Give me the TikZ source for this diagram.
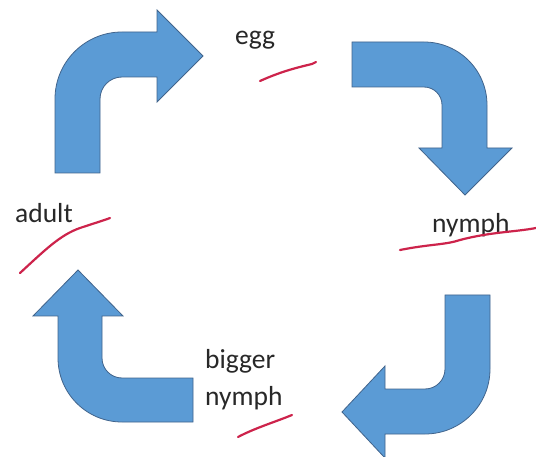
\documentclass[tikz,border=0pt]{standalone}
\usepackage{fontspec}
\setmainfont{Carlito}
\definecolor{arrowfill}{RGB}{91,155,213}
\definecolor{arrowline}{RGB}{65,100,140}
\definecolor{pen}{RGB}{205,35,75}
\definecolor{txt}{RGB}{40,40,40}
\begin{document}
\begin{tikzpicture}[x=1pt,y=-1pt,
  bent/.style={fill=arrowfill,draw=arrowline,line width=0.8pt,line join=miter},
  label/.style={inner sep=0pt,anchor=base west,text=txt,font=\fontsize{27.5}{37}\selectfont},
  ink/.style={draw=pen,line width=2.2pt,line cap=round,line join=round}]
\useasboundingbox[fill=white] (0,0) rectangle (536,457);
% arrow 1: up then right
\path[bent] (55,173) -- (55,99) arc[start angle=180,end angle=270,radius=67]
  -- (157,32) -- (157,10) -- (203,56) -- (157,102) -- (157,77) -- (122,77)
  arc[start angle=270,end angle=180,radius=22] -- (100,173) -- cycle;
% arrow 2: right then down
\path[bent] (352,42) -- (424,42) arc[start angle=270,end angle=360,radius=63]
  -- (487,148) -- (512,148) -- (465,195) -- (419,148) -- (442,148) -- (442,105)
  arc[start angle=0,end angle=-90,radius=18] -- (352,87) -- cycle;
% arrow 3: down then left
\path[bent] (445,295) -- (490,295) -- (490,369) arc[start angle=0,end angle=90,radius=65]
  -- (385,434) -- (385,458) -- (342,412) -- (385,366) -- (385,389) -- (425,389)
  arc[start angle=90,end angle=0,radius=20] -- cycle;
% arrow 4: left then up
\path[bent] (193,378) -- (193,422) -- (122,422) arc[start angle=90,end angle=180,radius=64]
  -- (58,316) -- (33,316) -- (78,270) -- (123,316) -- (102,316) -- (102,358)
  arc[start angle=180,end angle=90,radius=20] -- cycle;
% labels
\node[label] (egg) at (235,45) {egg};
\node[label] (nymph) at (432,233) {nymph};
\node[label] (adult) at (15,223) {adult};
\node[label,align=left] (big) at (205,405) {bigger\\nymph};
% pen marks
\draw[ink] (260,81) .. controls (280,72) and (295,68) .. (312,64) -- (316,62);
\draw[ink] (400,250) .. controls (430,244) and (445,245) .. (460,240) .. controls (490,232) and (515,232) .. (536,228);
\draw[ink] (20,273) .. controls (45,250) and (60,235) .. (80,228) .. controls (95,223) and (105,220) .. (110,218);
\draw[ink] (238,437) .. controls (255,428) and (275,422) .. (292,415);
\end{tikzpicture}
\end{document}
